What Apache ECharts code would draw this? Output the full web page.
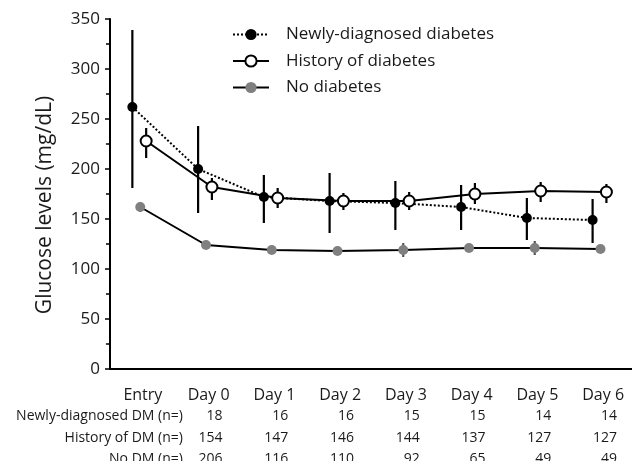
<!DOCTYPE html>
<html>
<head>
<meta charset="utf-8">
<script src="https://cdn.jsdelivr.net/npm/echarts@6/dist/echarts.min.js"></script>
<style>html,body{margin:0;padding:0;background:#fff}#c{width:632px;height:461px}</style>
</head>
<body>
<div id="c"></div>
<script>
// ---- data ----
var categories = ['Entry', 'Day 0', 'Day 1', 'Day 2', 'Day 3', 'Day 4', 'Day 5', 'Day 6'];
var yTicks = [0, 50, 100, 150, 200, 250, 300, 350];

var newlyMean = [262, 200, 172, 168, 166, 162, 151, 149];
var newlyLow  = [181, 156, 146, 136, 139, 139, 129, 126];
var newlyHigh = [339, 243, 194, 196, 188, 184, 171, 170];

var historyMean = [228, 182, 171, 168, 168, 175, 178, 177];
var historyLow  = [211, 169, 161, 159, 159, 165, 167, 166];
var historyHigh = [241, 191, 181, 176, 177, 186, 187, 185];

var noneMean = [162, 124, 119, 118, 119, 121, 121, 120];
var noneLow  = [157, 121, 116, 115, 112, 118, 114, 116];
var noneHigh = [167, 127, 122, 121, 126, 124, 128, 124];

var seriesNames = ['Newly-diagnosed diabetes', 'History of diabetes', 'No diabetes'];
var rowLabels = ['Newly-diagnosed DM (n=)', 'History of DM (n=)', 'No DM (n=)'];
var nNewly   = [18, 16, 16, 15, 15, 14, 14];
var nHistory = [154, 147, 146, 144, 137, 127, 127];
var nNone    = [206, 116, 110, 92, 65, 49, 49];

// ---- style ----
var FONT = '"Open Sans", "Noto Sans", sans-serif';
var TXT = '#1a1a1a';
var OFF = { newly: -0.16, none: -0.04, history: 0.05 };

function pts(mean, off) { return mean.map(function (v, i) { return [i + off, v]; }); }
function bars(lo, hi, off) { return lo.map(function (v, i) { return [i + off, v, hi[i]]; }); }

function errSeries(lo, hi, off, color) {
  return {
    type: 'custom', xAxisIndex: 1, yAxisIndex: 0, z: 1, silent: true,
    data: bars(lo, hi, off),
    renderItem: function (params, api) {
      var a = api.coord([api.value(0), api.value(1)]);
      var b = api.coord([api.value(0), api.value(2)]);
      return { type: 'line', shape: { x1: a[0], y1: a[1], x2: b[0], y2: b[1] },
               style: { stroke: color, lineWidth: 2.2 } };
    }
  };
}

function tableAxis(label, nums, offset) {
  return {
    type: 'category', data: categories, position: 'bottom', offset: offset,
    axisLine: { show: false, onZero: false }, axisTick: { show: false }, splitLine: { show: false },
    axisLabel: {
      interval: 0, margin: 8, hideOverlap: false,
      formatter: function (v, idx) {
        return idx === 0 ? '{r|' + label + '}' : '{n|' + nums[idx - 1] + '}';
      },
      rich: {
        r: { width: 80, align: 'right', fontFamily: FONT, fontSize: 14, color: TXT },
        n: { width: 28, align: 'right', fontFamily: FONT, fontSize: 14, color: TXT }
      }
    }
  };
}

var chart = echarts.init(document.getElementById('c'), null, { renderer: 'canvas' });
chart.setOption({
  animation: false,
  backgroundColor: '#fff',
  grid: { left: 110, top: 19, width: 526, height: 350, outerBoundsMode: 'none', containLabel: false },
  legend: {
    orient: 'vertical', left: 232, top: 26, padding: 0, itemWidth: 36, itemHeight: 14, itemGap: 9.5,
    data: seriesNames,
    textStyle: { fontFamily: FONT, fontSize: 17, color: TXT, padding: [0, 0, 0, 12] }
  },
  xAxis: [
    {
      type: 'category', data: categories, position: 'bottom',
      axisLine: { onZero: false, lineStyle: { color: '#000', width: 2 } },
      axisTick: { alignWithLabel: true, length: 4, lineStyle: { color: '#000', width: 1.5 } },
      axisLabel: { interval: 0, margin: 18, fontFamily: FONT, fontSize: 16, color: TXT },
      splitLine: { show: false }
    },
    { type: 'value', min: -0.5, max: 7.5, show: false },
    tableAxis(rowLabels[0], nNewly, 32),
    tableAxis(rowLabels[1], nHistory, 54),
    tableAxis(rowLabels[2], nNone, 75)
  ],
  yAxis: {
    type: 'value', min: 0, max: 350, interval: 50,
    name: 'Glucose levels (mg/dL)', nameLocation: 'middle', nameGap: 54, nameRotate: 90,
    nameTextStyle: { fontFamily: FONT, fontSize: 21, color: TXT, padding: [0, 22, 0, 0] },
    axisLine: { show: true, onZero: false, lineStyle: { color: '#000', width: 2 } },
    axisTick: { show: true, length: 5, lineStyle: { color: '#000', width: 1.5 } },
    minorTick: { show: true, splitNumber: 2, length: 4, lineStyle: { color: '#000', width: 1.5 } },
    axisLabel: { margin: 10, fontFamily: FONT, fontSize: 17, color: TXT,
      formatter: function (v) { return yTicks.indexOf(v) >= 0 ? String(v) : ''; } },
    splitLine: { show: false }
  },
  series: [
    errSeries(noneLow, noneHigh, OFF.none, '#555'),
    errSeries(newlyLow, newlyHigh, OFF.newly, '#000'),
    errSeries(historyLow, historyHigh, OFF.history, '#000'),
    {
      name: seriesNames[2], type: 'line', xAxisIndex: 1, z: 3,
      data: pts(noneMean, OFF.none), symbol: 'circle', symbolSize: 10,
      lineStyle: { color: '#000', width: 2 },
      itemStyle: { color: '#808080', borderWidth: 0 }
    },
    {
      name: seriesNames[0], type: 'line', xAxisIndex: 1, z: 4,
      data: pts(newlyMean, OFF.newly), symbol: 'circle', symbolSize: 10,
      lineStyle: { color: '#000', width: 2, type: [2, 2] },
      itemStyle: { color: '#000', borderWidth: 0 }
    },
    {
      name: seriesNames[1], type: 'line', xAxisIndex: 1, z: 5,
      data: pts(historyMean, OFF.history), symbol: 'circle', symbolSize: 11,
      lineStyle: { color: '#000', width: 2 },
      itemStyle: { color: '#fff', borderColor: '#000', borderWidth: 2 }
    }
  ]
});
</script>
</body>
</html>
